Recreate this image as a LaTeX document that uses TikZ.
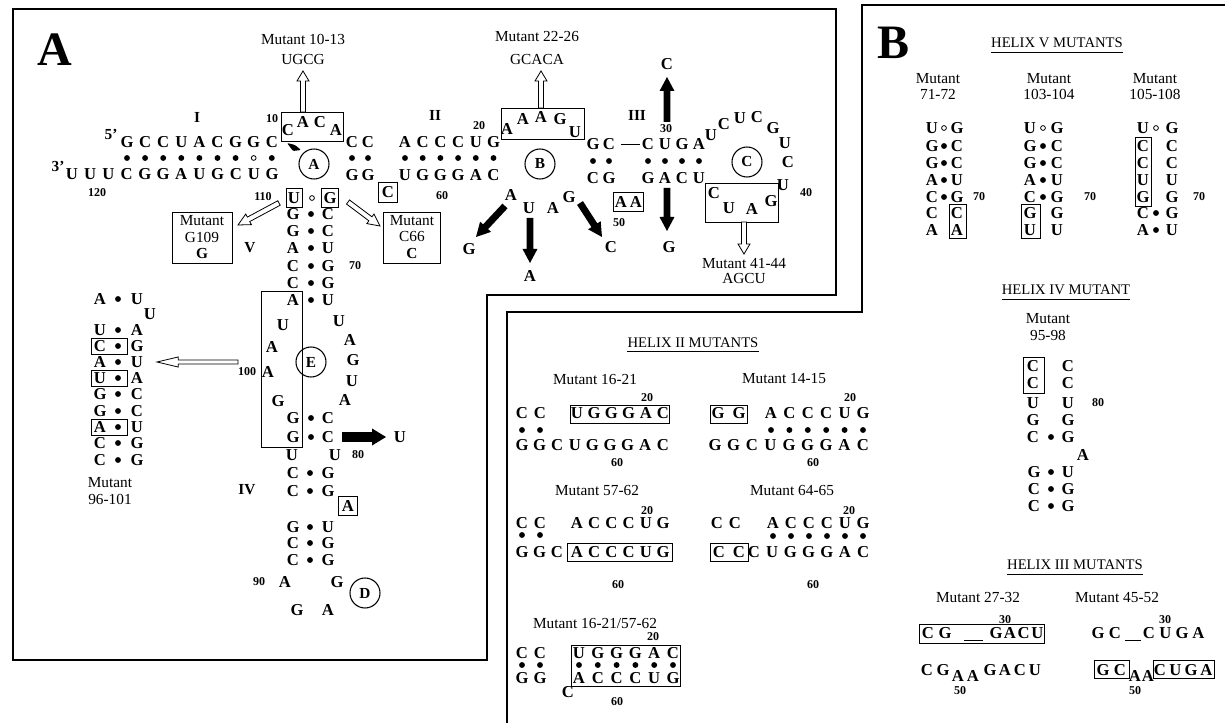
\documentclass[tikz,border=0pt]{standalone}
\usepackage{fontspec}
\setmainfont{Liberation Serif}
\usetikzlibrary{calc,fit}
\newcommand{\fatarrow}[6]{%
  \coordinate (fah) at ($(#3)!#6!(#2)$);
  \path[#1] ($(#2)!#4!-90:(#3)$) -- ($(fah)!#4!-90:(#3)$) -- ($(fah)!#5!-90:(#3)$) -- (#3)
    -- ($(fah)!#5!90:(#3)$) -- ($(fah)!#4!90:(#3)$) -- ($(#2)!#4!90:(#3)$) -- cycle;}
\newcommand{\seqrow}[5]{\foreach \sq [count=\i] in {#4}{\node[nt] (#5\i) at ({#1+(\i-1)*#3},#2) {\sq};}}
\newcommand{\dotrow}[4]{\foreach \i in {1,...,#4}{\fill ({#1+(\i-1)*#3},#2) circle (2.2pt);}}
\newcommand{\bp}[7]{\node[nt] (#1l) at (#3,#2) {#6}; \fill (#4,#2) circle (2.2pt); \node[nt] (#1r) at (#5,#2) {#7};}
\newcommand{\bpo}[7]{\node[nt] (#1l) at (#3,#2) {#6}; \draw[line width=0.6pt] (#4,#2) circle (1.8pt); \node[nt] (#1r) at (#5,#2) {#7};}
\newcommand{\bpn}[6]{\node[nt] (#1l) at (#3,#2) {#5}; \node[nt] (#1r) at (#4,#2) {#6};}
\begin{document}
\begin{tikzpicture}[x=0.75pt,y=-0.75pt,
  nt/.style={font=\fontsize{12.5}{12.5}\selectfont\bfseries, inner sep=0pt},
  num/.style={font=\fontsize{9}{9}\selectfont\bfseries, inner sep=0pt},
  lab/.style={font=\fontsize{11.5}{12}\selectfont, inner sep=0pt},
  labb/.style={font=\fontsize{11.5}{12}\selectfont\bfseries, inner sep=0pt},
  hd/.style={font=\fontsize{11}{12}\selectfont, inner sep=0pt},
  big/.style={font=\fontsize{36}{36}\selectfont\bfseries, inner sep=0pt},
  rom/.style={font=\fontsize{11.5}{12}\selectfont\bfseries, inner sep=0pt},
  cir/.style={draw, circle, line width=0.8pt, minimum size=22.5pt, inner sep=0pt, font=\fontsize{11.5}{12}\selectfont\bfseries},
  bx/.style={draw, line width=0.6pt, inner sep=0pt},
  bxl/.style={nt, draw, line width=0.6pt},
  frame/.style={line width=0.9pt},
  openarr/.style={draw, fill=white, line width=0.6pt},
  blkarr/.style={fill=black},
  uline/.style={line width=0.6pt}
]
\useasboundingbox (0,0) rectangle (1225,723);
\fill[white] (0,0) rectangle (1225,723);
% frames
\draw[frame] (13,9) -- (836,9) -- (836,295) -- (487,295) -- (487,660) -- (13,660) -- cycle;
\draw[frame] (1225,5) -- (862,5) -- (862,312) -- (507,312) -- (507,723);

% ================= Panel A =================
\node[big] (lblA) at (55,50) {A};
\node[lab] (m1013) at (303,39) {Mutant 10-13};
\node[lab] (m1013s) at (303,60) {UGCG};
\node[rom] (hI) at (197,117) {I};
\node[rom] (p5) at (111,134) {5\textquoteright};
\node[rom] (p3) at (58,166) {3\textquoteright};
\seqrow{127}{142}{18.1}{G,C,C,U,A,C,G,G,C}{hIt}
\dotrow{127}{158}{18.1}{7}
\draw[line width=0.6pt] (253.7,158) circle (1.8pt);
\fill (271.8,158) circle (2.2pt);
\seqrow{72}{174}{18.2}{U,U,U,C,G,G,A,U,G,C,U,G}{hIb}
\node[num] (n120) at (97,193) {120};
\node[num] (n10) at (272,119) {10};
\node[bx, fit={(281,112) (343,141)}] (caca) {};
\node[nt] (c10) at (288,130) {C};
\node[nt] (c11) at (303,122) {A};
\node[nt] (c12) at (320,122) {C};
\node[nt] (c13) at (336,130) {A};
\coordinate (a1s) at (303,112);
\coordinate (a1e) at (303,71);
\fatarrow{openarr}{a1s}{a1e}{1.9pt}{4.5pt}{7.5pt}
\fill[rounded corners=0.8pt] (287,143) -- (295,145) -- (301,150) -- (293,151) -- cycle;
\node[cir] (cA) at (314,164) {A};
\node[nt] (cc1) at (352,142) {C}; \node[nt] (cc2) at (368,142) {C};
\fill (352,158) circle (2.2pt); \fill (368,158) circle (2.2pt);
\node[nt] (gg1) at (352,175) {G}; \node[nt] (gg2) at (368,175) {G};
\node[bxl, minimum width=14pt, minimum height=15pt] (c66) at (388,192) {C};

% helix II
\node[rom] (hII) at (435,115) {II};
\seqrow{405}{142}{17.7}{A,C,C,C,U,G}{hIIt}
\dotrow{405}{158}{17.7}{6}
\seqrow{405}{175}{17.7}{U,G,G,G,A,C}{hIIb}
\node[num] (n20) at (479,126) {20};
\node[num] (n60) at (442,196) {60};
\node[bx, fit={(501,108) (584,139)}] (aaagu) {};
\node[nt] (s22) at (507,129) {A};
\node[nt] (s23) at (523,119) {A};
\node[nt] (s24) at (541,117) {A};
\node[nt] (s25) at (560,119) {G};
\node[nt] (s26) at (575,132) {U};
\node[lab] (m2226) at (537,37) {Mutant 22-26};
\node[lab] (m2226s) at (537,60) {GCACA};
\coordinate (a2s) at (541,108); \coordinate (a2e) at (541,71);
\fatarrow{openarr}{a2s}{a2e}{1.9pt}{4.5pt}{7.5pt}
\node[cir] (cB) at (540,164) {B};
% loop B
\node[nt] (lb1) at (511,195) {A};
\node[nt] (lb2) at (529,208) {U};
\node[nt] (lb3) at (553,208) {A};
\node[nt] (lb4) at (569,197) {G};
\node[nt] (mG) at (469,249) {G};
\node[nt] (mA) at (530,276) {A};
\node[nt] (mC) at (611,247) {C};
\coordinate (b1s) at (505,206); \coordinate (b1e) at (476,237);
\fatarrow{blkarr}{b1s}{b1e}{2.6pt}{5.6pt}{10.5pt}
\coordinate (b2s) at (530,218); \coordinate (b2e) at (530,263);
\fatarrow{blkarr}{b2s}{b2e}{2.6pt}{5.6pt}{10.5pt}
\coordinate (b3s) at (580,203); \coordinate (b3e) at (602,237);
\fatarrow{blkarr}{b3s}{b3e}{2.6pt}{5.6pt}{10.5pt}

% helix III
\node[rom] (hIII) at (637,115) {III};
\node[nt] (g27) at (593,144) {G}; \node[nt] (c28) at (609,144) {C};
\draw[line width=0.7pt] (621,144) -- (640,144);
\seqrow{648}{144}{17}{C,U,G,A}{hIIIt}
\fill (593,161) circle (2.2pt); \fill (609,161) circle (2.2pt);
\dotrow{648}{161}{17}{4}
\node[nt] (c53) at (593,178) {C}; \node[nt] (g52) at (609,178) {G};
\seqrow{648}{178}{17}{G,A,C,U}{hIIIb}
\node[num] (n30) at (666,129) {30};
\node[bx, fit={(613,192) (643,211)}] (aabox) {};
\node[nt] (a50) at (621,202) {A}; \node[nt] (a51) at (636,202) {A};
\node[num] (n50) at (619,223) {50};
\node[nt] (mC30) at (667,64) {C};
\coordinate (b4s) at (667,122); \coordinate (b4e) at (667,77);
\fatarrow{blkarr}{b4s}{b4e}{2.6pt}{5.6pt}{10.5pt}
\node[nt] (mG48) at (669,247) {G};
\coordinate (b5s) at (667,188); \coordinate (b5e) at (667,231);
\fatarrow{blkarr}{b5s}{b5e}{2.6pt}{5.6pt}{10.5pt}
% loop C
\node[nt] (lc1) at (711,135) {U};
\node[nt] (lc2) at (724,124) {C};
\node[nt] (lc3) at (740,118) {U};
\node[nt] (lc4) at (757,117) {C};
\node[nt] (lc5) at (773,128) {G};
\node[nt] (lc6) at (785,143) {U};
\node[nt] (lc7) at (788,162) {C};
\node[nt] (lc8) at (783,185) {U};
\node[num] (n40) at (806,193) {40};
\node[cir] (cC) at (747,162) {C};
\node[bx, fit={(705,183) (778,222)}] (cuag) {};
\node[nt] (l41) at (714,193) {C};
\node[nt] (l42) at (729,208) {U};
\node[nt] (l43) at (752,209) {A};
\node[nt] (l44) at (771,201) {G};
\node[lab] (m4144) at (744,264) {Mutant 41-44};
\node[lab] (m4144s) at (744,279) {AGCU};
\coordinate (a4s) at (744,222); \coordinate (a4e) at (744,254);
\fatarrow{openarr}{a4s}{a4e}{1.9pt}{4.5pt}{7.5pt}

% C66 box
\node[bx, fit={(383,212) (440,263)}] (boxc66) {};
\node[lab] (c66a) at (412,221) {Mutant};
\node[lab] (c66b) at (412,237) {C66};
\node[labb] (c66c) at (412,254) {C};
\coordinate (a3s) at (348,202); \coordinate (a3e) at (380,226);
\fatarrow{openarr}{a3s}{a3e}{1.9pt}{4.5pt}{9pt}

% helix V
\node[num] (n110) at (263,197) {110};
\node[bxl, minimum width=12pt, minimum height=14.5pt] (u109) at (294,198) {U};
\draw[line width=0.6pt] (312,198) circle (1.8pt);
\node[bxl, minimum width=12.75pt, minimum height=14.5pt] (g66) at (330,198) {G};
\coordinate (a6s) at (279,203); \coordinate (a6e) at (238,225);
\fatarrow{openarr}{a6s}{a6e}{1.9pt}{4.5pt}{9pt}
\node[bx, fit={(172,212) (232,263)}] (boxg109) {};
\node[lab] (g109a) at (202,221) {Mutant};
\node[lab] (g109b) at (202,237) {G109};
\node[labb] (g109c) at (202,254) {G};
\node[rom] (hV) at (250,248) {V};
\bp{v1}{214}{293}{311}{328}{G}{C}
\bp{v2}{231}{293}{311}{328}{G}{C}
\bp{v3}{248}{293}{311}{328}{A}{U}
\bp{v4}{266}{293}{311}{328}{C}{G}
\bp{v5}{283}{293}{311}{328}{C}{G}
\bp{v6}{300}{293}{311}{328}{A}{U}
\node[num] (n70) at (355,266) {70};
% loop E
\node[nt] (le1) at (339,321) {U};
\node[nt] (le2) at (350,340) {A};
\node[nt] (le3) at (353,360) {G};
\node[nt] (le4) at (352,381) {U};
\node[nt] (le5) at (345,400) {A};
\node[nt] (le6) at (283,325) {U};
\node[nt] (le7) at (272,347) {A};
\node[nt] (le8) at (268,372) {A};
\node[nt] (le9) at (278,401) {G};
\node[num] (n100) at (247,372) {100};
\bp{v7}{418}{293}{311}{328}{G}{C}
\bp{v8}{437}{293}{311}{328}{G}{C}
\node[bx, fit={(261,291) (302,447)}] (boxE) {};
\node[cir] (cE) at (311,362) {E};
\node[nt] (mU) at (400,437) {U};
\coordinate (b6s) at (342,437); \coordinate (b6e) at (386,437);
\fatarrow{blkarr}{b6s}{b6e}{3.6pt}{6.4pt}{10.5pt}
\node[nt] (u80a) at (292,455) {U};
\node[nt] (u80b) at (335,455) {U};
\node[num] (n80) at (358,455) {80};
% helix IV
\bp{iv1}{473}{293}{310}{328}{C}{G}
\bp{iv2}{491}{293}{310}{328}{C}{G}
\node[rom] (hIV) at (247,490) {IV};
\node[bxl, minimum width=14.25pt, minimum height=14.25pt] (a84) at (348,506) {A};
\bp{iv3}{527}{293}{310}{328}{G}{U}
\bp{iv4}{543}{293}{310}{328}{C}{G}
\bp{iv5}{560}{293}{310}{328}{C}{G}
\node[num] (n90) at (259,582) {90};
\node[nt] (ld1) at (285,582) {A};
\node[nt] (ld2) at (337,582) {G};
\node[nt] (ld3) at (297,610) {G};
\node[nt] (ld4) at (328,610) {A};
\node[cir] (cD) at (365,593) {D};

% mutant 96-101
\coordinate (a5s) at (238,362); \coordinate (a5e) at (157,362);
\fatarrow{openarr}{a5s}{a5e}{1.5pt}{3.8pt}{16pt}
\bp{m1}{299}{100}{118}{137}{A}{U}
\node[nt] (mbul) at (150,314) {U};
\bp{m2}{330}{100}{118}{137}{U}{A}
\bp{m3}{346}{100}{118}{137}{C}{G}
\bp{m4}{362}{100}{118}{137}{A}{U}
\bp{m5}{378}{100}{118}{137}{U}{A}
\bp{m6}{394}{100}{118}{137}{G}{C}
\bp{m7}{411}{100}{118}{137}{G}{C}
\bp{m8}{427}{100}{118}{137}{A}{U}
\bp{m9}{443}{100}{118}{137}{C}{G}
\bp{m10}{460}{100}{118}{137}{C}{G}
\node[bx, fit={(91,338) (127,354)}] (mb1) {};
\node[bx, fit={(91,370) (127,386)}] (mb2) {};
\node[bx, fit={(91,419) (127,435)}] (mb3) {};
\node[lab] (m96a) at (110,483) {Mutant};
\node[lab] (m96b) at (110,499) {96-101};

% ================= Helix II mutants =================
\node[hd] (h2) at (693,343) {HELIX II MUTANTS};
\draw[uline] ($(h2.south west)+(0,3)$) -- ($(h2.south east)+(0,3)$);
% 16-21
\node[lab] (t1621) at (595,379) {Mutant 16-21};
\node[num] (n1621a) at (647,398) {20};
\bpn{k1}{413}{522}{540}{C}{C}
\node[bx, fit={(570,405) (669,423)}] (bx1621) {};
\seqrow{577}{413}{17.2}{U,G,G,G,A,C}{k1t}
\fill (522,430) circle (2.2pt); \fill (540,430) circle (2.2pt);
\seqrow{522}{445}{17.6}{G,G,C,U,G,G,G,A,C}{k1b}
\node[num] (n1621b) at (617,463) {60};
% 14-15
\node[lab] (t1415) at (784,379) {Mutant 14-15};
\node[num] (n1415a) at (850,398) {20};
\node[bx, fit={(710,405) (747,423)}] (bx1415) {};
\bpn{k2}{413}{718}{739}{G}{G}
\seqrow{771}{413}{18.4}{A,C,C,C,U,G}{k2t}
\dotrow{771}{430}{18.4}{6}
\seqrow{715}{445}{18.5}{G,G,C,U,G,G,G,A,C}{k2b}
\node[num] (n1415b) at (813,463) {60};
% 57-62
\node[lab] (t5762) at (597,490) {Mutant 57-62};
\node[num] (n5762a) at (647,511) {20};
\bpn{k3}{523}{522}{540}{C}{C}
\seqrow{577}{523}{17.2}{A,C,C,C,U,G}{k3t}
\fill (522,535) circle (2.2pt); \fill (540,535) circle (2.2pt);
\seqrow{522}{552}{17.5}{G,G,C}{k3b}
\node[bx, fit={(567,543) (672,561)}] (bx5762) {};
\seqrow{577}{552}{17.2}{A,C,C,C,U,G}{k3m}
\node[num] (n5762b) at (618,585) {60};
% 64-65
\node[lab] (t6465) at (792,490) {Mutant 64-65};
\node[num] (n6465a) at (849,511) {20};
\bpn{k4}{523}{717}{735}{C}{C}
\seqrow{773}{523}{18}{A,C,C,C,U,G}{k4t}
\dotrow{773}{536}{18}{6}
\node[bx, fit={(710,543) (748,561)}] (bx6465) {};
\bpn{k5}{552}{719}{739}{C}{C}
\seqrow{754}{552}{18.2}{C,U,G,G,G,A,C}{k4b}
\node[num] (n6465b) at (813,585) {60};
% 16-21/57-62
\node[lab] (tdbl) at (595,623) {Mutant 16-21/57-62};
\node[num] (ndbla) at (653,637) {20};
\bpn{k6}{653}{522}{540}{C}{C}
\fill (522,665) circle (2.2pt); \fill (540,665) circle (2.2pt);
\bpn{k7}{678}{522}{540}{G}{G}
\node[nt] (kc) at (568,692) {C};
\node[bx, fit={(571,645) (680,686)}] (bxdbl) {};
\seqrow{579}{653}{18.8}{U,G,G,G,A,C}{k6t}
\dotrow{579}{665}{18.8}{6}
\seqrow{579}{678}{18.8}{A,C,C,C,U,G}{k6b}
\node[num] (ndblb) at (617,702) {60};

% ================= Panel B =================
\node[big] (lblB) at (893,43) {B};
\node[hd] (h5) at (1057,43) {HELIX V MUTANTS};
\draw[uline] ($(h5.south west)+(0,4)$) -- ($(h5.south east)+(0,4)$);
\node[lab] (p1a) at (938,79) {Mutant};
\node[lab] (p1b) at (938,94) {71-72};
\node[lab] (p2a) at (1049,79) {Mutant};
\node[lab] (p2b) at (1049,94) {103-104};
\node[lab] (p3a) at (1155,79) {Mutant};
\node[lab] (p3b) at (1155,94) {105-108};
% col 1
\bpo{q11}{128}{932}{944}{957}{U}{G}
\bp{q12}{146}{932}{944}{957}{G}{C}
\bp{q13}{163}{932}{944}{957}{G}{C}
\bp{q14}{180}{932}{944}{957}{A}{U}
\bp{q15}{197}{932}{944}{957}{C}{G}
\bpn{q16}{213}{932}{957}{C}{C}
\bpn{q17}{230}{932}{957}{A}{A}
\node[num] (nq1) at (979,197) {70};
\node[bx, fit={(949,204) (966,238)}] (qb1) {};
% col 2
\bpo{q21}{128}{1030}{1043}{1057}{U}{G}
\bp{q22}{146}{1030}{1043}{1057}{G}{C}
\bp{q23}{163}{1030}{1043}{1057}{G}{C}
\bp{q24}{180}{1030}{1043}{1057}{A}{U}
\bp{q25}{197}{1030}{1043}{1057}{C}{G}
\bpn{q26}{213}{1030}{1057}{G}{G}
\bpn{q27}{230}{1030}{1057}{U}{U}
\node[num] (nq2) at (1090,197) {70};
\node[bx, fit={(1021,204) (1040,238)}] (qb2) {};
% col 3
\bpo{q31}{128}{1143}{1156}{1172}{U}{G}
\bpn{q32}{146}{1143}{1172}{C}{C}
\bpn{q33}{163}{1143}{1172}{C}{C}
\bpn{q34}{180}{1143}{1172}{U}{U}
\bpn{q35}{197}{1143}{1172}{G}{G}
\bp{q36}{213}{1143}{1156}{1172}{C}{G}
\bp{q37}{230}{1143}{1156}{1172}{A}{U}
\node[num] (nq3) at (1199,197) {70};
\node[bx, fit={(1135,137) (1151,206)}] (qb3) {};

% helix IV mutant
\node[hd] (h4) at (1066,290) {HELIX IV MUTANT};
\draw[uline] ($(h4.south west)+(0,4)$) -- ($(h4.south east)+(0,4)$);
\node[lab] (r1a) at (1048,319) {Mutant};
\node[lab] (r1b) at (1048,335) {95-98};
\node[bx, fit={(1023,357) (1044,393)}] (rb1) {};
\bpn{r1}{366}{1033}{1068}{C}{C}
\bpn{r2}{383}{1033}{1068}{C}{C}
\bpn{r3}{403}{1033}{1068}{U}{U}
\node[num] (nr80) at (1098,403) {80};
\bpn{r4}{420}{1033}{1068}{G}{G}
\bp{r5}{437}{1033}{1051}{1068}{C}{G}
\node[nt] (r6) at (1083,455) {A};
\bp{r7}{472}{1034}{1051}{1068}{G}{U}
\bp{r8}{489}{1034}{1051}{1068}{C}{G}
\bp{r9}{506}{1034}{1051}{1068}{C}{G}

% helix III mutants
\node[hd] (h3) at (1075,565) {HELIX III MUTANTS};
\draw[uline] ($(h3.south west)+(0,4)$) -- ($(h3.south east)+(0,4)$);
\node[lab] (w1) at (978,597) {Mutant 27-32};
\node[lab] (w2) at (1117,597) {Mutant 45-52};
% 27-32
\node[num] (nw1a) at (1005,620) {30};
\node[bx, fit={(919,624) (1044,643)}] (wb1) {};
\node[nt] (w11) at (928,633) {C};
\node[nt] (w12) at (945,633) {G};
\draw[line width=0.7pt] (964,640) -- (983,640);
\seqrow{996}{633}{13.8}{G,A,C,U}{w1t}
\node[nt] (w21) at (927,670) {C};
\node[nt] (w22) at (943,670) {G};
\node[nt] (w23) at (958,676) {A};
\node[nt] (w24) at (973,676) {A};
\seqrow{990}{670}{15}{G,A,C,U}{w2t}
\node[num] (nw1b) at (960,691) {50};
% 45-52
\node[nt] (w31) at (1098,633) {G};
\node[nt] (w32) at (1115,633) {C};
\draw[line width=0.7pt] (1125,640) -- (1141,640);
\seqrow{1149}{633}{16.5}{C,U,G,A}{w3t}
\node[num] (nw2a) at (1165,620) {30};
\node[bx, fit={(1094,660) (1129,678)}] (wb2) {};
\node[nt] (w41) at (1103,670) {G};
\node[nt] (w42) at (1120,670) {C};
\node[nt] (w43) at (1135,676) {A};
\node[nt] (w44) at (1148,676) {A};
\node[bx, fit={(1153,660) (1214,678)}] (wb3) {};
\seqrow{1160}{670}{15.5}{C,U,G,A}{w4t}
\node[num] (nw2b) at (1135,691) {50};
\end{tikzpicture}
\end{document}
